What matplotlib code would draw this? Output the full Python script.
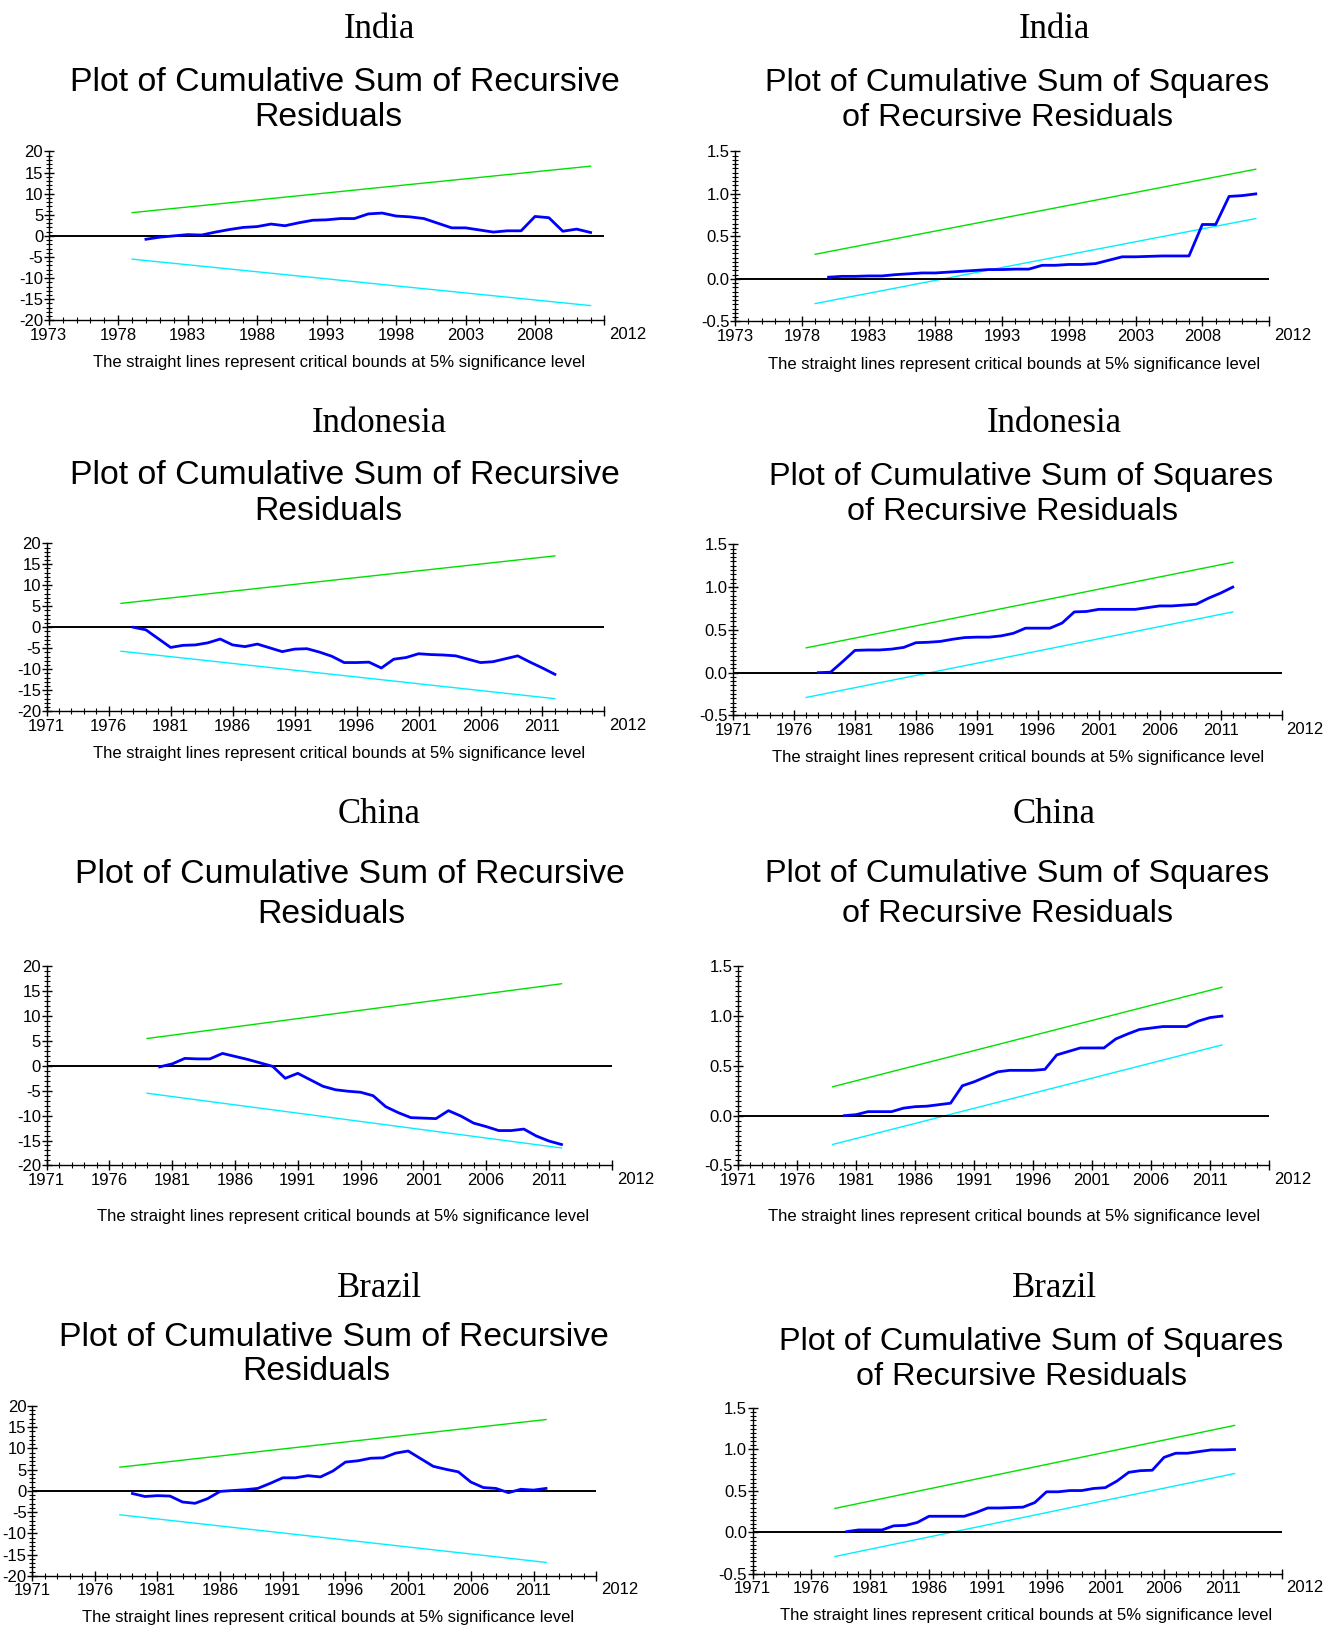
#CUSUM and CUSUMSQ stability plots for four countries (Microfit style)
import numpy as np
import matplotlib.pyplot as plt
from matplotlib.ticker import MultipleLocator, FixedLocator

plt.rcParams['font.family'] = ['Liberation Sans', 'DejaVu Sans']
plt.rcParams['axes.unicode_minus'] = False

# ---- data ----
india_years = np.arange(1980, 2013)
india_cusum = [-0.8, -0.3, 0.0, 0.3, 0.2, 0.9, 1.5, 2.0, 2.2, 2.8, 2.4, 3.1, 3.7, 3.8, 4.1, 4.1, 5.2,
               5.4, 4.7, 4.5, 4.1, 3.0, 1.9, 1.9, 1.4, 0.9, 1.2, 1.2, 4.6, 4.3, 1.1, 1.6, 0.8]
india_cusumsq = [0.02, 0.03, 0.03, 0.035, 0.035, 0.05, 0.06, 0.07, 0.07, 0.08, 0.09, 0.10, 0.11, 0.11,
                 0.115, 0.115, 0.16, 0.16, 0.17, 0.17, 0.18, 0.22, 0.26, 0.26, 0.265, 0.27, 0.27, 0.27,
                 0.64, 0.64, 0.97, 0.98, 1.0]

indo_years = np.arange(1978, 2013)
indo_cusum = [0.0, -0.6, -2.7, -4.8, -4.3, -4.2, -3.7, -2.8, -4.2, -4.6, -4.0, -4.9, -5.8, -5.2, -5.1,
              -5.9, -6.9, -8.4, -8.4, -8.3, -9.7, -7.6, -7.2, -6.3, -6.5, -6.6, -6.8, -7.6, -8.4, -8.2,
              -7.5, -6.8, -8.3, -9.7, -11.2]
indo_cusumsq = [0.0, 0.005, 0.13, 0.26, 0.265, 0.265, 0.275, 0.295, 0.35, 0.355, 0.365, 0.39, 0.41,
                0.415, 0.415, 0.43, 0.46, 0.52, 0.52, 0.52, 0.58, 0.71, 0.715, 0.74, 0.74, 0.74, 0.74,
                0.76, 0.78, 0.78, 0.79, 0.80, 0.87, 0.93, 1.0]

china_years = np.arange(1980, 2013)
china_cusum = [-0.2, 0.4, 1.5, 1.4, 1.4, 2.5, 1.9, 1.3, 0.6, -0.1, -2.5, -1.5, -2.8, -4.1, -4.8, -5.1,
               -5.3, -6.0, -8.2, -9.4, -10.4, -10.5, -10.6, -9.0, -10.1, -11.5, -12.2, -13.0, -13.0,
               -12.7, -14.1, -15.1, -15.8]
china_cusumsq = [0.0, 0.01, 0.04, 0.04, 0.04, 0.075, 0.09, 0.095, 0.11, 0.125, 0.30, 0.34, 0.39, 0.44,
                 0.455, 0.455, 0.455, 0.465, 0.61, 0.645, 0.68, 0.68, 0.68, 0.77, 0.82, 0.865, 0.88,
                 0.895, 0.895, 0.895, 0.95, 0.985, 1.0]

brazil_years = np.arange(1979, 2013)
brazil_cusum = [-0.6, -1.3, -1.1, -1.2, -2.6, -2.9, -1.8, -0.1, 0.1, 0.3, 0.6, 1.8, 3.1, 3.1, 3.6, 3.3,
                4.7, 6.8, 7.1, 7.7, 7.8, 8.9, 9.4, 7.6, 5.8, 5.1, 4.5, 2.1, 0.8, 0.6, -0.4, 0.4, 0.2, 0.6]
brazil_cusumsq = [0.01, 0.03, 0.03, 0.03, 0.08, 0.085, 0.12, 0.195, 0.195, 0.195, 0.195, 0.24, 0.295,
                  0.295, 0.30, 0.305, 0.36, 0.49, 0.49, 0.505, 0.505, 0.53, 0.54, 0.62, 0.725, 0.745,
                  0.75, 0.905, 0.955, 0.955, 0.975, 0.995, 0.995, 1.0]

# critical bounds (value at first and last year)
india_cusum_hi, india_cusum_lo = [5.5, 16.5], [-5.5, -16.5]
indo_cusum_hi, indo_cusum_lo = [5.7, 17.0], [-5.7, -17.0]
china_cusum_hi, china_cusum_lo = [5.5, 16.5], [-5.5, -16.5]
brazil_cusum_hi, brazil_cusum_lo = [5.6, 16.8], [-5.6, -16.8]
sq_hi, sq_lo = [0.29, 1.29], [-0.29, 0.71]

cusum_title = ["Plot of Cumulative Sum of Recursive", "Residuals"]
sq_title = ["Plot of Cumulative Sum of Squares", "of Recursive Residuals"]
footnote = "The straight lines represent critical bounds at 5% significance level"

# ---- layout, measured on the 1276 px wide preview ----
S = 1323 / 1276
W, H = 1323, 1626

panels = [
    # country, kind, years, values, hi, lo, x range, axes box (l, r, t, b), country xy, title xy's, footnote xy
    ("India", "cusum", india_years, india_cusum, india_cusum_hi, india_cusum_lo, (1973, 2013),
     (47, 583, 146, 309), (366, 25), [(333, 77), (317, 110)], (327, 348)),
    ("India", "sq", india_years, india_cusumsq, sq_hi, sq_lo, (1973, 2013),
     (709, 1224, 146, 310), (1017, 25), [(981, 77), (972, 111)], (978, 350)),
    ("Indonesia", "cusum", indo_years, indo_cusum, indo_cusum_hi, indo_cusum_lo, (1971, 2016),
     (45, 583, 524, 686), (366, 405), [(333, 456), (317, 490)], (327, 725)),
    ("Indonesia", "sq", indo_years, indo_cusumsq, sq_hi, sq_lo, (1971, 2016),
     (707, 1236, 525, 690), (1017, 405), [(985, 457), (977, 491)], (982, 729)),
    ("China", "cusum", china_years, china_cusum, china_cusum_hi, china_cusum_lo, (1971, 2016),
     (45, 590, 932, 1124), (366, 782), [(337, 840), (320, 879)], (331, 1171)),
    ("China", "sq", china_years, china_cusumsq, sq_hi, sq_lo, (1971, 2016),
     (712, 1224, 932, 1124), (1017, 782), [(981, 840), (972, 879)], (978, 1171)),
    ("Brazil", "cusum", brazil_years, brazil_cusum, brazil_cusum_hi, brazil_cusum_lo, (1971, 2016),
     (31, 575, 1356, 1520), (366, 1239), [(322, 1287), (305, 1320)], (316, 1558)),
    ("Brazil", "sq", brazil_years, brazil_cusumsq, sq_hi, sq_lo, (1971, 2016),
     (726, 1236, 1358, 1518), (1017, 1239), [(994, 1291), (985, 1325)], (990, 1556)),
]


def fx(x):
    return x * S / W


def fy(y):
    return 1 - y * S / H


fig = plt.figure(figsize=(W / 100, H / 100), dpi=100)

for country, kind, years, vals, hi, lo, (x0, x1), (l, r, t, b), cxy, txy, fxy in panels:
    ax = fig.add_axes([fx(l), fy(b), (r - l) * S / W, (b - t) * S / H])

    bx = [years[0] - 1, years[-1]]
    ax.plot(bx, hi, color='#00e000', lw=1.0)
    ax.plot(bx, lo, color='#00f0ff', lw=1.0)
    ax.axhline(0, color='black', lw=1.4)
    ax.plot(years, vals, color='#0000ff', lw=2.0)

    if kind == "cusum":
        y0, y1 = -20, 20
        ax.yaxis.set_major_locator(FixedLocator(np.arange(-20, 21, 5)))
        ax.yaxis.set_minor_locator(MultipleLocator(1))
        ax.set_yticklabels([f"{v:d}" for v in range(-20, 21, 5)])
        titles, tsize = cusum_title, 24.3
    else:
        y0, y1 = -0.5, 1.5
        ax.yaxis.set_major_locator(FixedLocator([-0.5, 0.0, 0.5, 1.0, 1.5]))
        ax.yaxis.set_minor_locator(MultipleLocator(0.05))
        ax.set_yticklabels(["-0.5", "0.0", "0.5", "1.0", "1.5"])
        titles, tsize = sq_title, 23.3

    ax.set_xlim(x0, x1)
    ax.set_ylim(y0, y1)
    majors = list(range(x0, x1 + 1, 5))
    ax.xaxis.set_major_locator(FixedLocator(majors))
    ax.set_xticklabels([str(m) if m < x1 else "" for m in majors])
    ax.xaxis.set_minor_locator(MultipleLocator(1))

    for s in ['top', 'right']:
        ax.spines[s].set_visible(False)
    for s in ['left', 'bottom']:
        ax.spines[s].set_linewidth(1.0)
    ax.tick_params(which='major', direction='inout', length=7, width=1.0, labelsize=12, pad=0.5)
    ax.tick_params(axis='x', which='major', pad=1.8)
    ax.tick_params(which='minor', direction='inout', length=4, width=0.8)
    ax.patch.set_alpha(0)

    ax.annotate("2012", xy=(x1, y0), xytext=(17, -10), textcoords='offset points',
                ha='center', va='center', fontsize=12)

    fig.text(fx(cxy[0]), fy(cxy[1] + 3.5), country, ha='center', va='center', fontsize=25,
             family=['Liberation Serif', 'DejaVu Serif'])
    for (tx, ty), line in zip(txy, titles):
        fig.text(fx(tx), fy(ty + 3), line, ha='center', va='center', fontsize=tsize)
    fig.text(fx(fxy[0]), fy(fxy[1] + 2), footnote, ha='center', va='center', fontsize=12)

fig.savefig('out.png', dpi=100, facecolor='white')
